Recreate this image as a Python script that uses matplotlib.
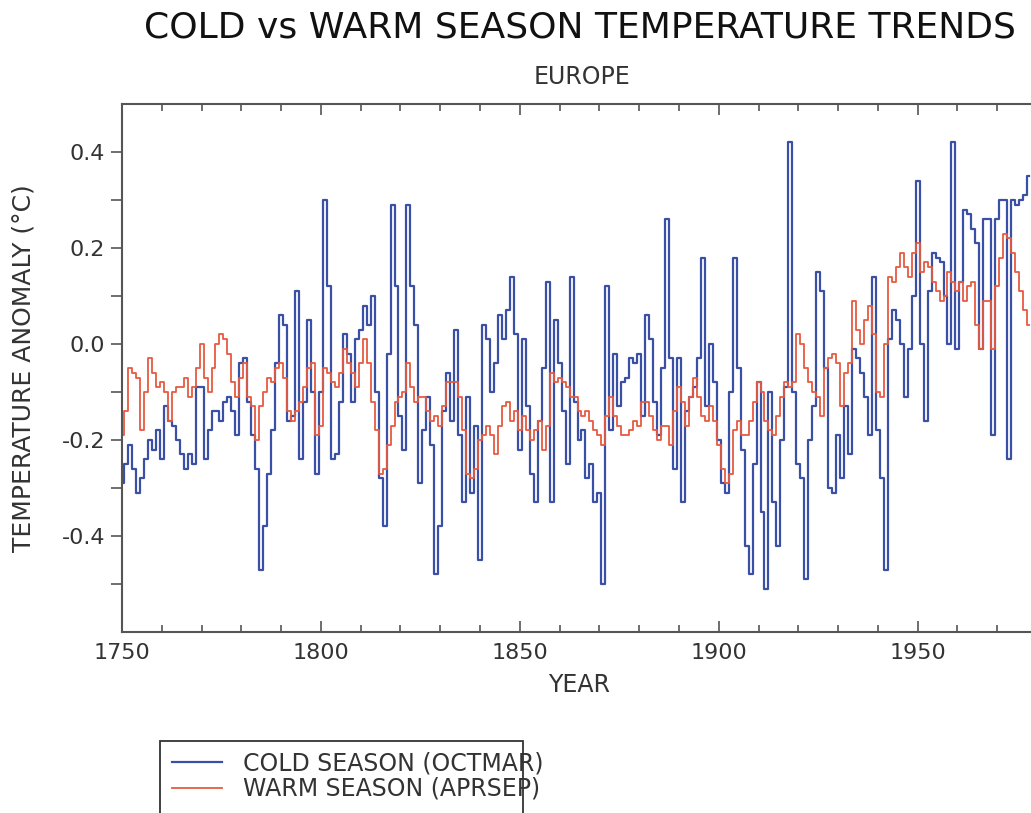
import numpy as np
import matplotlib
matplotlib.use("Agg")
import matplotlib.pyplot as plt
from matplotlib.patches import Rectangle
from matplotlib.ticker import MultipleLocator, FixedLocator

plt.rcParams['font.family'] = ['DejaVu Sans']

years = np.arange(1750, 1979)

# cold season (oct-mar) anomaly, one value per year, 1750-1978
cold = [
    -0.29, -0.25, -0.21, -0.26, -0.31, -0.28, -0.24, -0.20, -0.22, -0.18,
    -0.24, -0.13, -0.16, -0.17, -0.20, -0.23, -0.26, -0.23, -0.25, -0.09,
    -0.09, -0.24, -0.18, -0.14, -0.14, -0.16, -0.12, -0.11, -0.14, -0.19,
    -0.04, -0.03, -0.12, -0.19, -0.26, -0.47, -0.38, -0.27, -0.18, -0.04,
    0.06, 0.04, -0.16, -0.15, 0.11, -0.24, -0.12, 0.05, -0.10, -0.27,
    -0.10, 0.30, 0.12, -0.24, -0.23, -0.12, 0.02, -0.02, -0.12, 0.01,
    0.03, 0.08, 0.04, 0.10, -0.10, -0.28, -0.38, -0.02, 0.29, 0.12,
    -0.15, -0.22, 0.29, 0.12, 0.04, -0.29, -0.18, -0.11, -0.21, -0.48,
    -0.38, -0.14, -0.06, -0.16, 0.03, -0.19, -0.33, -0.11, -0.31, -0.17,
    -0.45, 0.04, 0.01, -0.10, -0.04, 0.06, 0.01, 0.07, 0.14, 0.02,
    -0.22, 0.01, -0.13, -0.27, -0.33, -0.16, -0.05, 0.13, -0.33, 0.05,
    -0.04, -0.14, -0.25, 0.14, -0.12, -0.20, -0.18, -0.28, -0.25, -0.33,
    -0.31, -0.50, 0.12, -0.18, -0.02, -0.13, -0.08, -0.07, -0.03, -0.04,
    -0.02, -0.15, 0.06, 0.01, -0.12, -0.19, -0.05, 0.26, -0.03, -0.26,
    -0.03, -0.33, -0.14, -0.11, -0.09, -0.03, 0.18, -0.13, 0.00, -0.08,
    -0.20, -0.29, -0.31, -0.10, 0.18, -0.05, -0.22, -0.42, -0.48, -0.25,
    -0.08, -0.35, -0.51, -0.10, -0.33, -0.42, -0.20, -0.09, 0.42, -0.10,
    -0.25, -0.28, -0.49, -0.20, -0.13, 0.15, 0.11, -0.05, -0.30, -0.31,
    -0.19, -0.28, -0.13, -0.23, -0.01, -0.03, -0.06, -0.11, -0.19, 0.14,
    -0.18, -0.28, -0.47, 0.01, 0.07, 0.05, 0.00, -0.11, -0.01, 0.10,
    0.34, 0.00, -0.16, 0.11, 0.19, 0.18, 0.17, 0.10, 0.00, 0.42,
    -0.01, 0.13, 0.28, 0.27, 0.24, 0.21, -0.01, 0.26, 0.26, -0.19,
    0.26, 0.30, 0.30, -0.24, 0.30, 0.29, 0.30, 0.31, 0.35,
]

# warm season (apr-sep) anomaly, 1750-1978
warm = [
    -0.19, -0.14, -0.05, -0.06, -0.07, -0.18, -0.10, -0.03, -0.06, -0.09,
    -0.08, -0.10, -0.16, -0.10, -0.09, -0.09, -0.07, -0.11, -0.09, -0.05,
    0.00, -0.07, -0.10, -0.05, 0.00, 0.02, 0.01, -0.02, -0.08, -0.11,
    -0.07, -0.04, -0.11, -0.13, -0.20, -0.13, -0.10, -0.07, -0.08, -0.05,
    -0.04, -0.07, -0.14, -0.16, -0.14, -0.12, -0.09, -0.05, -0.04, -0.19,
    -0.17, -0.05, -0.06, -0.08, -0.09, -0.06, -0.01, -0.04, -0.06, -0.09,
    -0.04, 0.01, -0.04, -0.12, -0.18, -0.27, -0.26, -0.21, -0.17, -0.12,
    -0.11, -0.10, -0.04, -0.09, -0.12, -0.11, -0.11, -0.14, -0.16, -0.15,
    -0.17, -0.13, -0.08, -0.08, -0.08, -0.11, -0.18, -0.27, -0.28, -0.26,
    -0.20, -0.19, -0.17, -0.19, -0.23, -0.17, -0.13, -0.12, -0.16, -0.14,
    -0.18, -0.15, -0.18, -0.20, -0.18, -0.16, -0.22, -0.17, -0.06, -0.08,
    -0.07, -0.08, -0.09, -0.11, -0.11, -0.14, -0.15, -0.14, -0.16, -0.18,
    -0.19, -0.21, -0.15, -0.11, -0.15, -0.17, -0.19, -0.19, -0.18, -0.16,
    -0.17, -0.12, -0.12, -0.15, -0.18, -0.20, -0.17, -0.17, -0.21, -0.14,
    -0.09, -0.12, -0.17, -0.11, -0.07, -0.11, -0.15, -0.16, -0.13, -0.16,
    -0.21, -0.26, -0.29, -0.27, -0.18, -0.16, -0.19, -0.19, -0.16, -0.12,
    -0.08, -0.10, -0.16, -0.18, -0.19, -0.15, -0.11, -0.08, -0.09, -0.08,
    0.02, 0.00, -0.05, -0.08, -0.10, -0.11, -0.15, -0.05, -0.03, -0.02,
    -0.04, -0.13, -0.06, -0.04, 0.09, 0.03, 0.00, 0.05, 0.08, 0.02,
    -0.10, -0.11, 0.00, 0.14, 0.13, 0.16, 0.19, 0.16, 0.14, 0.19,
    0.21, 0.15, 0.17, 0.16, 0.13, 0.11, 0.09, 0.10, 0.15, 0.13,
    0.11, 0.13, 0.09, 0.12, 0.13, 0.04, -0.01, 0.09, 0.09, -0.01,
    0.12, 0.18, 0.23, 0.22, 0.19, 0.15, 0.11, 0.07, 0.04,
]

yticks = [-0.4, -0.2, 0.0, 0.2, 0.4]

fig = plt.figure(figsize=(10.31, 8.13), dpi=100)
ax = fig.add_axes([122 / 1031, 181 / 813, 915 / 1031, 528 / 813])

ax.plot(years, cold, drawstyle='steps-mid', color='#3a50a6', lw=1.6,
        label='COLD SEASON (OCTMAR)')
ax.plot(years, warm, drawstyle='steps-mid', color='#e65a40', lw=1.3,
        label='WARM SEASON (APRSEP)')

ax.set_xlim(1750, 1980)
ax.set_ylim(-0.6, 0.5)
ax.xaxis.set_major_locator(MultipleLocator(50))
ax.xaxis.set_minor_locator(MultipleLocator(10))
ax.yaxis.set_major_locator(FixedLocator(yticks))
ax.yaxis.set_minor_locator(FixedLocator([-0.5, -0.3, -0.1, 0.1, 0.3]))
ax.yaxis.set_major_formatter(plt.FuncFormatter(lambda v, p: '%.1f' % v))

for s in ax.spines.values():
    s.set_color('#555555')
    s.set_linewidth(1.5)
ax.tick_params(axis='x', which='both', direction='in', top=True,
               colors='#555555', labelcolor='#333333', labelsize=16, pad=8)
ax.tick_params(axis='x', which='major', length=8, width=1.2)
ax.tick_params(axis='x', which='minor', length=5, width=1.2)
ax.tick_params(axis='y', which='both', direction='out', length=8, width=1.2,
               colors='#555555', labelcolor='#333333', labelsize=16, pad=4)

ax.set_xlabel('YEAR', fontsize=17, color='#333333', labelpad=7)
ax.set_ylabel('TEMPERATURE ANOMALY (\u00b0C)', fontsize=18, color='#333333',
              labelpad=19)

fig.text(580 / 1031, 1 - 28 / 813, 'COLD vs WARM SEASON TEMPERATURE TRENDS',
         ha='center', va='center', fontsize=26, color='#111111')
fig.text(582 / 1031, 1 - 77 / 813, 'EUROPE', ha='center', va='center',
         fontsize=17, color='#333333')

# legend box, cut off at the bottom of the figure
fig.patches.append(Rectangle((160 / 1031, -0.1), 363 / 1031, 0.1 + 72 / 813,
                             transform=fig.transFigure, fill=False,
                             edgecolor='#333333', lw=1.3))
fig.legend(loc='upper left', bbox_to_anchor=(172 / 1031, 1 - 751 / 813),
           frameon=False, fontsize=17, handlelength=2.1, handletextpad=0.9,
           labelspacing=0.08, borderpad=0, borderaxespad=0,
           labelcolor='#333333')

fig.savefig('out.png', dpi=100)
